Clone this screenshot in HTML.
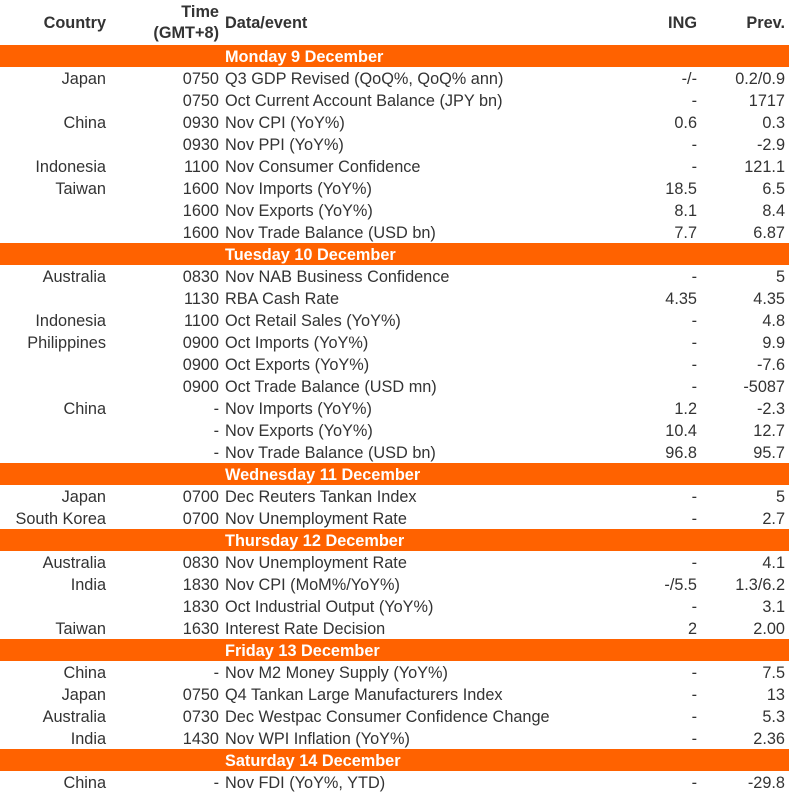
<!DOCTYPE html>
<html><head><meta charset="utf-8"><style>
body{margin:0;width:789px;height:796px;background:#fff;font-family:"Liberation Sans",sans-serif;font-size:16.3px;color:#333;position:relative;overflow:hidden}
.r{position:absolute;left:0;width:789px;height:22px;line-height:24px}
.r span{position:absolute;white-space:nowrap}
.c{right:683px;text-align:right}
.t{right:570px;text-align:right}
.d{left:225px}
.i{right:92px;text-align:right}
.p{right:4px;text-align:right}
.b{background:#FF6200;color:#fff;font-weight:bold}
.h{position:absolute;font-weight:bold;line-height:21px}
</style></head><body>
<div class="h" style="right:683px;top:13px">Country</div>
<div class="h" style="right:570px;top:2px;text-align:right">Time<br>(GMT+8)</div>
<div class="h" style="left:225px;top:13px">Data/event</div>
<div class="h" style="right:92px;top:13px">ING</div>
<div class="h" style="right:4px;top:13px">Prev.</div>
<div id="rows"></div>
<script>
var R=[
["B","Monday 9 December"],
["Japan","0750","Q3 GDP Revised (QoQ%, QoQ% ann)","-/-","0.2/0.9"],
["","0750","Oct Current Account Balance (JPY bn)","-","1717"],
["China","0930","Nov CPI (YoY%)","0.6","0.3"],
["","0930","Nov PPI (YoY%)","-","-2.9"],
["Indonesia","1100","Nov Consumer Confidence","-","121.1"],
["Taiwan","1600","Nov Imports (YoY%)","18.5","6.5"],
["","1600","Nov Exports (YoY%)","8.1","8.4"],
["","1600","Nov Trade Balance (USD bn)","7.7","6.87"],
["B","Tuesday 10 December"],
["Australia","0830","Nov NAB Business Confidence","-","5"],
["","1130","RBA Cash Rate","4.35","4.35"],
["Indonesia","1100","Oct Retail Sales (YoY%)","-","4.8"],
["Philippines","0900","Oct Imports (YoY%)","-","9.9"],
["","0900","Oct Exports (YoY%)","-","-7.6"],
["","0900","Oct Trade Balance (USD mn)","-","-5087"],
["China","-","Nov Imports (YoY%)","1.2","-2.3"],
["","-","Nov Exports (YoY%)","10.4","12.7"],
["","-","Nov Trade Balance (USD bn)","96.8","95.7"],
["B","Wednesday 11 December"],
["Japan","0700","Dec Reuters Tankan Index","-","5"],
["South Korea","0700","Nov Unemployment Rate","-","2.7"],
["B","Thursday 12 December"],
["Australia","0830","Nov Unemployment Rate","-","4.1"],
["India","1830","Nov CPI (MoM%/YoY%)","-/5.5","1.3/6.2"],
["","1830","Oct Industrial Output (YoY%)","-","3.1"],
["Taiwan","1630","Interest Rate Decision","2","2.00"],
["B","Friday 13 December"],
["China","-","Nov M2 Money Supply (YoY%)","-","7.5"],
["Japan","0750","Q4 Tankan Large Manufacturers Index","-","13"],
["Australia","0730","Dec Westpac Consumer Confidence Change","-","5.3"],
["India","1430","Nov WPI Inflation (YoY%)","-","2.36"],
["B","Saturday 14 December"],
["China","-","Nov FDI (YoY%, YTD)","-","-29.8"]];
var h="";R.forEach(function(r,k){var y=45+k*22;
if(r[0]=="B")h+='<div class="r b" style="top:'+y+'px"><span class="d">'+r[1]+'</span></div>';
else h+='<div class="r" style="top:'+y+'px"><span class="c">'+r[0]+'</span><span class="t">'+r[1]+'</span><span class="d">'+r[2]+'</span><span class="i">'+r[3]+'</span><span class="p">'+r[4]+'</span></div>';});
document.getElementById("rows").innerHTML=h;
</script>
</body></html>
